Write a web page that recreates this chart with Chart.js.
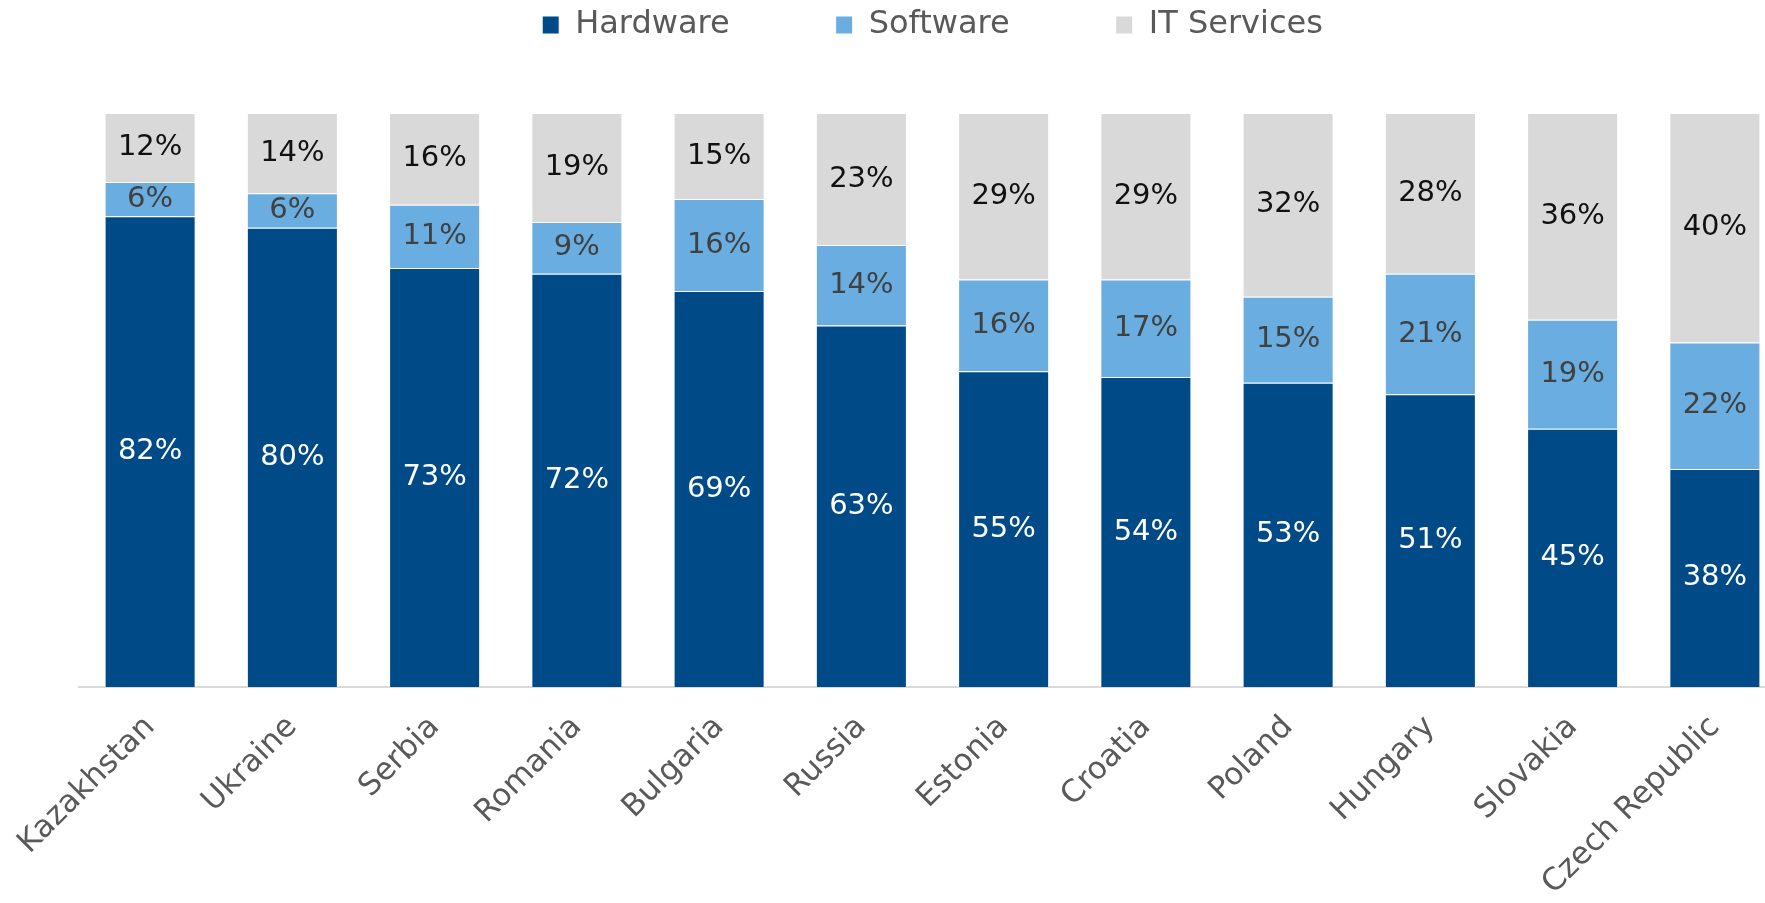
<!DOCTYPE html>
<html>
<head>
<meta charset="utf-8">
<script src="https://cdn.jsdelivr.net/npm/chart.js@4"></script>
<style>
  html, body { margin: 0; padding: 0; background: #fff; overflow: hidden; }
  #wrap { width: 1765px; height: 903px; overflow: hidden; }
</style>
</head>
<body>
<div id="wrap"><canvas id="it-chart" width="1786" height="903"></canvas></div>
<script>
// IT market split by country

var countries = ["Kazakhstan", "Ukraine", "Serbia", "Romania", "Bulgaria", "Russia", "Estonia", "Croatia", "Poland", "Hungary", "Slovakia", "Czech Republic"];
var hardware = [82, 80, 73, 72, 69, 63, 55, 54, 53, 51, 45, 38];
var software = [6, 6, 11, 9, 16, 14, 16, 17, 15, 21, 19, 22];
var itServices = [12, 14, 16, 19, 15, 23, 29, 29, 32, 28, 36, 40];

var labelColors = ["#ffffff", "#404040", "#111111"];

// percent labels in the middle of each segment
var segmentLabels = {
  id: "segmentLabels",
  beforeInit: function(chart) {
    // extra room under the legend
    var legend = chart.legend;
    var fit = legend.fit;
    legend.fit = function() {
      fit.call(legend);
      this.height += 62;
    };
  },
  afterDatasetsDraw: function(chart) {
    var ctx = chart.ctx;
    ctx.save();
    ctx.font = "29px 'DejaVu Sans'";
    ctx.textAlign = "center";
    ctx.textBaseline = "middle";
    chart.data.datasets.forEach(function(ds, i) {
      var meta = chart.getDatasetMeta(i);
      ctx.fillStyle = labelColors[i];
      meta.data.forEach(function(bar, j) {
        var y = (bar.y + bar.base) / 2;
        ctx.fillText(ds.data[j] + "%", bar.x, y);
      });
    });
    ctx.restore();
  }
};

var ctx = document.getElementById("it-chart").getContext("2d");
new Chart(ctx, {
  type: "bar",
  data: {
    labels: countries,
    datasets: [
      { label: "Hardware", data: hardware, backgroundColor: "#004b87", borderColor: "#ffffff", borderWidth: 1 },
      { label: "Software", data: software, backgroundColor: "#6aade0", borderColor: "#ffffff", borderWidth: 1 },
      { label: "IT Services", data: itServices, backgroundColor: "#d9d9d9", borderColor: "#ffffff", borderWidth: 1 }
    ]
  },
  options: {
    responsive: false,
    animation: false,
    layout: { padding: { top: -97, left: 79, right: 0, bottom: 0 } },
    datasets: {
      bar: { barPercentage: 0.64, categoryPercentage: 1 }
    },
    plugins: {
      legend: {
        display: true,
        position: "top",
        labels: {
          font: { family: "'DejaVu Sans'", size: 32 },
          color: "#595959",
          boxWidth: 17,
          boxHeight: 18,
          padding: 106
        }
      },
      tooltip: { enabled: false }
    },
    scales: {
      x: {
        stacked: true,
        grid: { display: false },
        border: { color: "#d9d9d9", width: 2 },
        afterFit: function(scale) {
          scale.height = 216;
        },
        ticks: {
          color: "#595959",
          font: { family: "'DejaVu Sans'", size: 31 },
          minRotation: 45,
          maxRotation: 45,
          padding: 14
        }
      },
      y: {
        stacked: true,
        display: false,
        min: 0,
        max: 100
      }
    }
  },
  plugins: [segmentLabels]
});
</script>
</body>
</html>
